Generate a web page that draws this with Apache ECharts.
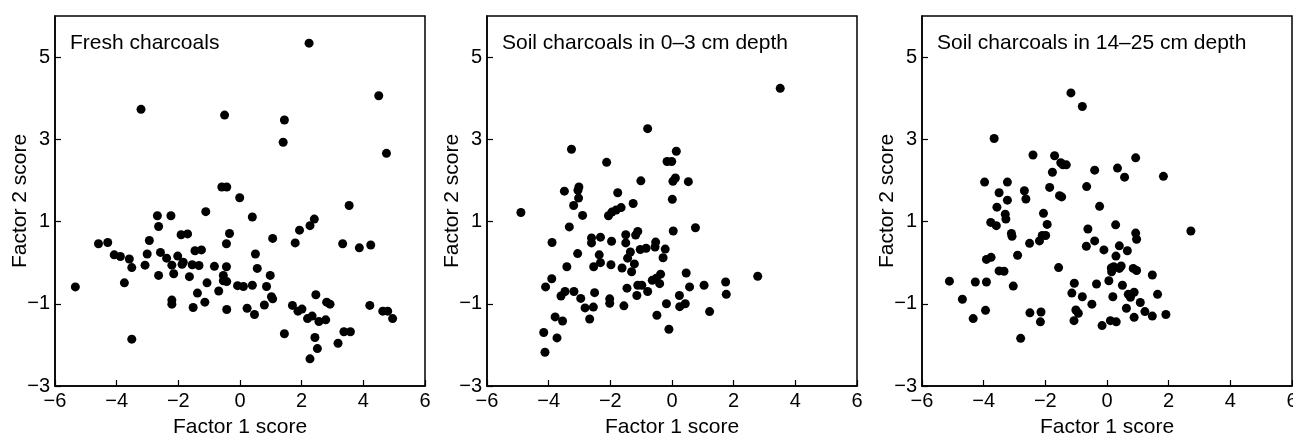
<!DOCTYPE html>
<html>
<head>
<meta charset="utf-8">
<script src="https://cdn.jsdelivr.net/npm/echarts@6/dist/echarts.min.js"></script>
<style>
html,body{margin:0;padding:0;background:#fff;}
#chart{width:1293px;height:440px;}
</style>
</head>
<body>
<div id="chart"></div>
<script>
// ---- Data (Factor 1 score, Factor 2 score) ----
const panelTitles = ["Fresh charcoals", "Soil charcoals in 0\u20133 cm depth", "Soil charcoals in 14\u201325 cm depth"];
const xTicks = [-6, -4, -2, 0, 2, 4, 6];
const yTicks = [-3, -1, 1, 3, 5];
const xAxisTitle = "Factor 1 score";
const yAxisTitle = "Factor 2 score";

const freshCharcoals = [
  [2.24,5.34],[4.50,4.06],[-3.21,3.73],[-0.50,3.59],[1.44,3.47],[1.40,2.93],[4.75,2.66],
  [-0.59,1.84],[-0.43,1.84],[-0.01,1.58],[3.54,1.39],[-1.11,1.24],[-2.68,1.14],[-2.24,1.14],
  [0.40,1.11],[2.41,1.06],[2.27,0.90],[-2.64,0.88],[1.93,0.79],[-1.91,0.68],[-1.70,0.70],
  [-0.34,0.71],[-2.94,0.54],[1.06,0.59],[-4.59,0.46],[-4.29,0.49],[-0.44,0.46],[1.79,0.48],
  [3.33,0.46],[4.24,0.43],[3.87,0.36],[-1.46,0.29],[-1.25,0.31],[-4.08,0.19],[-3.88,0.15],
  [-3.01,0.21],[-2.58,0.25],[-2.38,0.11],[-2.02,0.16],[0.50,0.21],[-3.59,0.09],[-3.51,-0.12],
  [-3.08,-0.06],[-2.21,-0.06],[-1.84,0.01],[-1.88,-0.04],[-1.55,-0.05],[-1.33,-0.07],[-0.83,-0.09],
  [-0.44,-0.10],[0.56,-0.14],[-2.64,-0.31],[-2.15,-0.27],[-1.64,-0.34],[-0.54,-0.31],[0.98,-0.31],
  [-3.75,-0.49],[-1.07,-0.49],[-0.54,-0.44],[-0.43,-0.46],[-5.34,-0.59],[-0.08,-0.56],[0.11,-0.58],
  [0.40,-0.55],[0.86,-0.58],[-0.69,-0.69],[-1.38,-0.74],[2.46,-0.78],[1.02,-0.83],[1.06,-0.88],
  [-2.21,-0.91],[-2.21,-1.01],[-1.14,-0.96],[2.81,-0.96],[2.92,-1.01],[0.79,-1.03],[1.70,-1.04],
  [4.21,-1.04],[-1.52,-1.09],[0.23,-1.11],[-0.43,-1.14],[1.88,-1.18],[2.01,-1.13],[4.63,-1.18],
  [4.79,-1.18],[0.47,-1.26],[2.34,-1.30],[2.19,-1.36],[4.95,-1.36],[2.56,-1.43],[2.78,-1.39],
  [3.37,-1.68],[3.58,-1.68],[1.44,-1.73],[2.43,-1.82],[3.18,-1.96],[-3.51,-1.86],[2.51,-2.09],
  [2.27,-2.34]
];

const soil0to3 = [
  [3.51,4.24],[-0.79,3.26],[-3.26,2.76],[0.14,2.71],[-2.12,2.44],[-0.16,2.46],[-0.01,2.46],
  [-1.01,1.99],[0.03,1.98],[0.11,2.06],[0.53,1.97],[-3.02,1.84],[-3.05,1.76],[-3.49,1.74],
  [-1.76,1.70],[-3.03,1.57],[0.01,1.54],[-1.26,1.44],[-3.19,1.39],[-1.65,1.34],[-1.81,1.28],
  [-1.95,1.23],[-4.90,1.22],[-2.06,1.14],[-2.90,1.15],[-3.33,0.87],[0.76,0.85],[0.04,0.77],
  [-1.11,0.76],[-1.18,0.67],[-1.50,0.68],[-2.32,0.62],[-2.61,0.60],[-2.61,0.48],[-1.96,0.52],
  [-1.50,0.48],[-3.89,0.49],[-0.53,0.50],[-0.55,0.38],[-0.84,0.35],[-1.03,0.32],[-0.22,0.33],
  [-1.35,0.26],[-3.06,0.22],[-2.36,0.19],[-1.44,0.11],[-0.29,0.12],[-2.32,0.00],[-1.98,-0.05],
  [-1.22,-0.03],[-3.41,-0.10],[-2.54,-0.10],[-1.62,-0.13],[-1.31,-0.22],[-0.37,-0.28],[0.46,-0.25],
  [2.78,-0.33],[-0.64,-0.43],[-0.51,-0.38],[-3.90,-0.39],[1.74,-0.47],[-0.40,-0.51],[-4.10,-0.59],
  [-1.11,-0.55],[-0.98,-0.55],[0.57,-0.59],[1.04,-0.55],[-1.46,-0.62],[-0.79,-0.70],[-3.47,-0.70],
  [-3.18,-0.70],[-2.51,-0.73],[1.76,-0.77],[-3.60,-0.81],[-1.14,-0.80],[0.24,-0.80],[-2.96,-0.87],
  [-2.02,-0.88],[-2.02,-0.99],[-0.18,-1.00],[-1.56,-1.05],[0.43,-1.00],[0.25,-1.07],[-2.82,-1.10],
  [-2.55,-1.08],[1.22,-1.19],[-3.79,-1.32],[-0.49,-1.28],[-2.67,-1.37],[-3.55,-1.42],[-0.10,-1.62],
  [-4.16,-1.70],[-3.73,-1.83],[-4.12,-2.18]
];

const soil14to25 = [
  [-1.17,4.13],[-0.80,3.80],[-3.66,3.02],[-2.40,2.62],[-1.70,2.60],[0.93,2.55],[-1.50,2.43],
  [-1.43,2.38],[-1.32,2.38],[0.34,2.30],[-0.40,2.25],[-1.77,2.20],[0.57,2.08],[1.83,2.10],
  [-3.97,1.96],[-3.23,1.96],[-1.86,1.83],[-0.66,1.85],[-2.68,1.75],[-3.50,1.70],[-1.54,1.63],
  [-1.47,1.60],[-2.63,1.55],[-3.23,1.52],[-3.57,1.35],[-0.24,1.37],[-3.30,1.18],[-2.06,1.20],
  [-3.28,1.06],[-3.77,0.98],[-3.59,0.90],[-1.94,0.93],[0.28,0.92],[2.72,0.77],[-0.62,0.82],
  [-3.10,0.71],[-3.08,0.64],[0.93,0.72],[-2.10,0.66],[-1.99,0.66],[0.96,0.57],[-2.51,0.47],
  [-2.19,0.53],[-0.40,0.53],[-0.67,0.40],[0.40,0.41],[-0.10,0.31],[0.66,0.29],[-2.90,0.18],
  [0.29,0.16],[-3.91,0.08],[-3.76,0.13],[-1.57,-0.12],[0.14,-0.13],[0.22,-0.10],[0.46,-0.08],
  [0.40,-0.14],[0.85,-0.14],[0.96,-0.19],[-3.50,-0.20],[-3.34,-0.21],[0.15,-0.22],[1.47,-0.30],
  [-5.11,-0.45],[-4.27,-0.47],[-3.91,-0.47],[0.06,-0.44],[-1.06,-0.50],[-0.34,-0.52],[0.50,-0.55],
  [-3.04,-0.57],[-1.14,-0.74],[0.88,-0.72],[0.69,-0.77],[1.64,-0.77],[0.76,-0.84],[-0.80,-0.83],
  [0.19,-0.83],[-4.69,-0.89],[1.08,-0.97],[-0.49,-1.01],[0.63,-1.11],[-1.01,-1.15],[-3.94,-1.16],
  [-2.50,-1.22],[-2.14,-1.20],[-0.93,-1.23],[1.23,-1.19],[1.91,-1.26],[1.47,-1.30],[0.88,-1.33],
  [-4.34,-1.36],[-1.07,-1.41],[-2.16,-1.44],[0.11,-1.41],[0.30,-1.44],[-0.16,-1.53],[-2.80,-1.84]
];

const panelData = [freshCharcoals, soil0to3, soil14to25];

// ---- Layout ----
const FONT = "'Liberation Sans', Arial, sans-serif";
const gridLefts = [55, 487, 922];
const gridW = 370, gridTop = 16, gridH = 370;

const fmtNum = v => (v < 0 ? '\u2212' + Math.abs(v) : String(v));

const chart = echarts.init(document.getElementById('chart'), null, {renderer: 'canvas'});

const grids = [], xAxes = [], yAxes = [], series = [], titles = [];
panelData.forEach((d, i) => {
  grids.push({left: gridLefts[i], top: gridTop, width: gridW, height: gridH,
    containLabel: false, outerBoundsMode: 'none',
    show: true, borderColor: '#000', borderWidth: 1.5, backgroundColor: 'transparent'});
  xAxes.push({
    gridIndex: i, type: 'value', min: xTicks[0], max: xTicks[xTicks.length - 1], interval: 2,
    name: xAxisTitle, nameLocation: 'middle', nameGap: 31, nameMoveOverlap: false,
    nameTextStyle: {fontFamily: FONT, fontSize: 21, color: '#000'},
    axisLine: {show: true, onZero: false, lineStyle: {color: '#000', width: 1.5}},
    axisTick: {show: true, inside: true, length: 6, lineStyle: {color: '#000', width: 1.2}},
    axisLabel: {fontFamily: FONT, fontSize: 20, color: '#000', margin: 5, formatter: fmtNum},
    splitLine: {show: false}
  });
  yAxes.push({
    gridIndex: i, type: 'value', min: yTicks[0], max: 6, interval: 2,
    name: yAxisTitle, nameLocation: 'middle', nameGap: 24, nameMoveOverlap: false,
    nameTextStyle: {fontFamily: FONT, fontSize: 21, color: '#000'},
    axisLine: {show: true, onZero: false, lineStyle: {color: '#000', width: 1.5}},
    axisTick: {show: true, inside: true, length: 6, lineStyle: {color: '#000', width: 1.2},
      customValues: yTicks},
    axisLabel: {fontFamily: FONT, fontSize: 20, color: '#000', margin: 5,
      customValues: yTicks, formatter: fmtNum},
    splitLine: {show: false}
  });
  series.push({
    type: 'scatter', xAxisIndex: i, yAxisIndex: i, data: d,
    symbol: 'circle', symbolSize: 9, itemStyle: {color: '#000', opacity: 1}, silent: true
  });
  titles.push({
    text: panelTitles[i], left: gridLefts[i] + 10, top: 28,
    textStyle: {fontFamily: FONT, fontSize: 21, fontWeight: 'normal', color: '#000'}
  });
});

chart.setOption({
  backgroundColor: '#fff',
  animation: false,
  title: titles,
  grid: grids,
  xAxis: xAxes,
  yAxis: yAxes,
  series: series
});
</script>
</body>
</html>
